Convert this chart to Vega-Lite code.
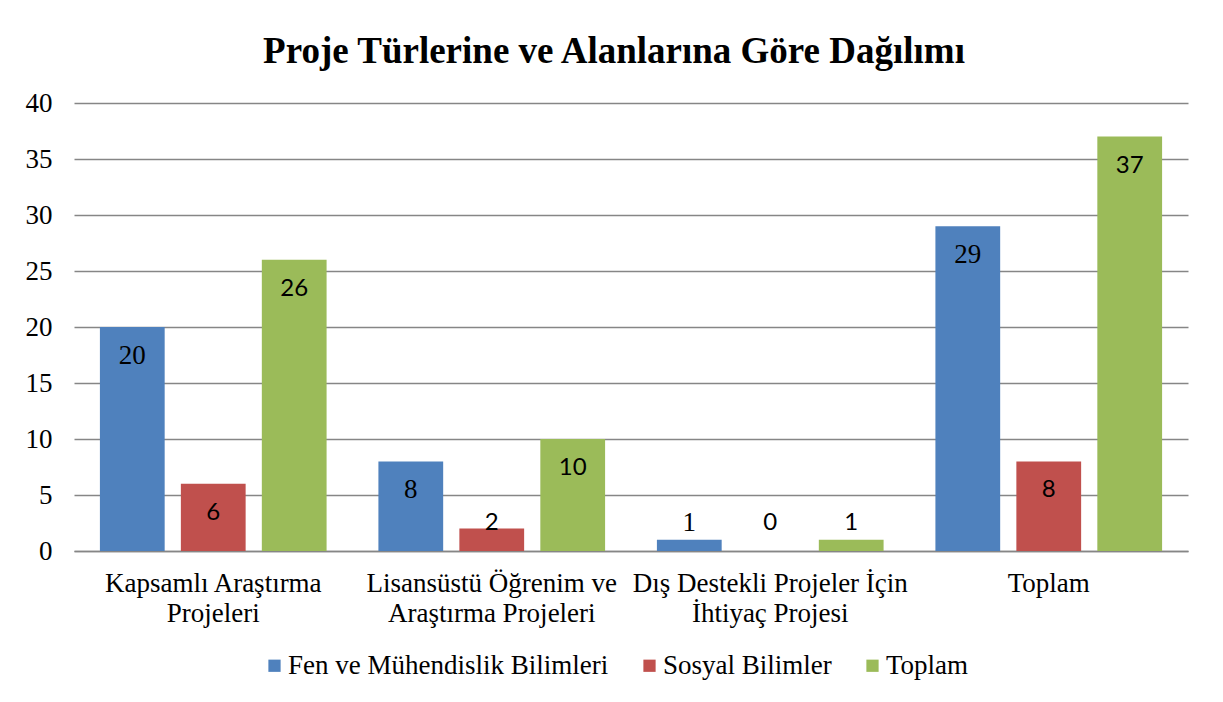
{
  "$schema": "https://vega.github.io/schema/vega-lite/v6.json",
  "autosize": "none",
  "width": 1114,
  "height": 448,
  "padding": {"left": 74, "top": 103, "right": 35, "bottom": 151},
  "background": "white",
  "title": {
    "text": "Proje Türlerine ve Alanlarına Göre Dağılımı",
    "font": "Liberation Serif",
    "fontSize": 37,
    "fontWeight": "bold",
    "color": "black",
    "anchor": "middle",
    "dx": -17,
    "offset": 18
  },
  "data": {
    "values": [
      {"category": "Kapsamlı Araştırma Projeleri", "series": "Fen ve Mühendislik Bilimleri", "value": 20},
      {"category": "Kapsamlı Araştırma Projeleri", "series": "Sosyal Bilimler", "value": 6},
      {"category": "Kapsamlı Araştırma Projeleri", "series": "Toplam", "value": 26},
      {"category": "Lisansüstü Öğrenim ve Araştırma Projeleri", "series": "Fen ve Mühendislik Bilimleri", "value": 8},
      {"category": "Lisansüstü Öğrenim ve Araştırma Projeleri", "series": "Sosyal Bilimler", "value": 2},
      {"category": "Lisansüstü Öğrenim ve Araştırma Projeleri", "series": "Toplam", "value": 10},
      {"category": "Dış Destekli Projeler İçin İhtiyaç Projesi", "series": "Fen ve Mühendislik Bilimleri", "value": 1},
      {"category": "Dış Destekli Projeler İçin İhtiyaç Projesi", "series": "Sosyal Bilimler", "value": 0},
      {"category": "Dış Destekli Projeler İçin İhtiyaç Projesi", "series": "Toplam", "value": 1},
      {"category": "Toplam", "series": "Fen ve Mühendislik Bilimleri", "value": 29},
      {"category": "Toplam", "series": "Sosyal Bilimler", "value": 8},
      {"category": "Toplam", "series": "Toplam", "value": 37}
    ]
  },
  "encoding": {
    "x": {
      "field": "category",
      "type": "nominal",
      "sort": null,
      "scale": {"paddingInner": 0, "paddingOuter": 0},
      "axis": {
        "title": null,
        "labelAngle": 0,
        "labelFont": "Liberation Serif",
        "labelFontSize": 27,
        "labelColor": "black",
        "labelLineHeight": 30,
        "labelPadding": 19,
        "labelLimit": 400,
        "ticks": false,
        "domain": true,
        "domainColor": "#868686",
        "domainWidth": 1.5,
        "labelExpr": "datum.value == 'Kapsamlı Araştırma Projeleri' ? ['Kapsamlı Araştırma', 'Projeleri'] : datum.value == 'Lisansüstü Öğrenim ve Araştırma Projeleri' ? ['Lisansüstü Öğrenim ve', 'Araştırma Projeleri'] : datum.value == 'Dış Destekli Projeler İçin İhtiyaç Projesi' ? ['Dış Destekli Projeler İçin', 'İhtiyaç Projesi'] : datum.value"
      }
    },
    "xOffset": {
      "field": "series",
      "type": "nominal",
      "sort": null,
      "scale": {"paddingInner": 0.2, "paddingOuter": 0.32}
    }
  },
  "layer": [
    {
      "mark": {"type": "bar"},
      "encoding": {
        "y": {
          "field": "value",
          "type": "quantitative",
          "scale": {"domain": [0, 40], "nice": false},
          "axis": {
            "title": null,
            "values": [0, 5, 10, 15, 20, 25, 30, 35, 40],
            "grid": true,
            "gridColor": "#868686",
            "gridWidth": 1.5,
            "domain": false,
            "ticks": false,
            "labelFont": "Liberation Serif",
            "labelFontSize": 27,
            "labelColor": "black",
            "labelPadding": 22
          }
        },
        "color": {
          "field": "series",
          "type": "nominal",
          "sort": null,
          "scale": {
            "domain": ["Fen ve Mühendislik Bilimleri", "Sosyal Bilimler", "Toplam"],
            "range": ["#4F81BD", "#C0504D", "#9BBB59"]
          },
          "legend": {
            "title": null,
            "orient": "none",
            "direction": "horizontal",
            "legendX": 187,
            "legendY": 549,
            "symbolType": "square",
            "symbolSize": 150,
            "symbolStrokeWidth": 0,
            "labelFont": "Liberation Serif",
            "labelFontSize": 27,
            "labelColor": "black",
            "labelOffset": 0,
            "columnPadding": 27,
            "labelLimit": 500,
            "padding": 0
          }
        }
      }
    },
    {
      "transform": [
        {"filter": {"field": "series", "equal": "Fen ve Mühendislik Bilimleri"}},
        {"filter": {"field": "value", "gte": 4}}
      ],
      "mark": {"type": "text", "font": "Liberation Serif", "fontSize": 27, "color": "black", "baseline": "middle", "dy": 29},
      "encoding": {
        "y": {"field": "value", "type": "quantitative"},
        "text": {"field": "value", "type": "quantitative"}
      }
    },
    {
      "transform": [
        {"filter": {"not": {"field": "series", "equal": "Fen ve Mühendislik Bilimleri"}}},
        {"filter": {"field": "value", "gte": 4}}
      ],
      "mark": {"type": "text", "font": "Lato", "fontSize": 24, "color": "black", "baseline": "middle", "dy": 29},
      "encoding": {
        "y": {"field": "value", "type": "quantitative"},
        "text": {"field": "value", "type": "quantitative"}
      }
    },
    {
      "transform": [
        {"filter": {"field": "series", "equal": "Fen ve Mühendislik Bilimleri"}},
        {"filter": {"field": "value", "lt": 4}}
      ],
      "mark": {"type": "text", "font": "Liberation Serif", "fontSize": 27, "color": "black", "baseline": "middle"},
      "encoding": {
        "y": {"datum": 2.5, "type": "quantitative"},
        "text": {"field": "value", "type": "quantitative"}
      }
    },
    {
      "transform": [
        {"filter": {"not": {"field": "series", "equal": "Fen ve Mühendislik Bilimleri"}}},
        {"filter": {"field": "value", "lt": 4}}
      ],
      "mark": {"type": "text", "font": "Lato", "fontSize": 24, "color": "black", "baseline": "middle"},
      "encoding": {
        "y": {"datum": 2.5, "type": "quantitative"},
        "text": {"field": "value", "type": "quantitative"}
      }
    }
  ],
  "config": {
    "view": {"stroke": null}
  }
}
